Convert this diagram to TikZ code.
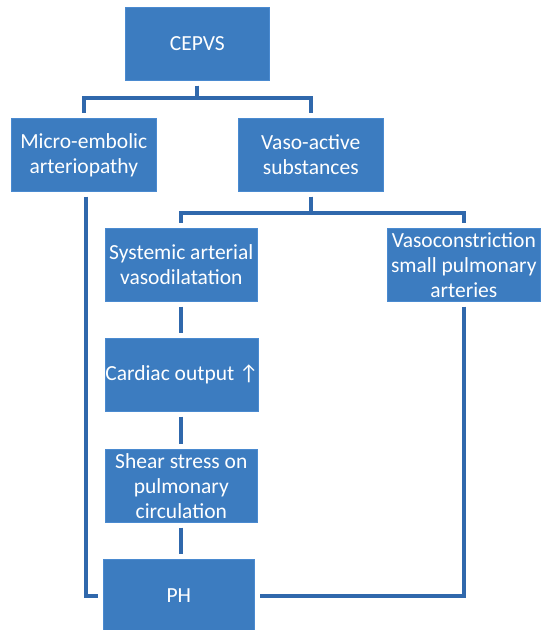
\documentclass[tikz,border=0pt]{standalone}
\usepackage{fontspec}
\setmainfont{Carlito}
\definecolor{boxblue}{HTML}{3C7CC0}
\definecolor{boxedge}{HTML}{4A8AD0}
\definecolor{lineblue}{HTML}{3068AC}
\begin{document}
\begin{tikzpicture}[x=1pt,y=-1pt,
  blk/.style={draw=boxedge,line width=0.6pt,fill=boxblue,text=white,align=center,
    font=\fontsize{21.5}{25}\selectfont,inner sep=0pt,anchor=north west},
  conn/.style={draw=lineblue,line width=4pt,shorten <=5pt,shorten >=5pt}]
\useasboundingbox (0,0) rectangle (542,630);
\node[blk,minimum width=144pt,minimum height=73pt] (cepvs) at (125,7) {CEPVS};
\node[blk,minimum width=145pt,minimum height=73pt] (micro) at (11,118) {Micro-embolic\\arteriopathy};
\node[blk,minimum width=145pt,minimum height=73pt] (vaso) at (238,118) {Vaso-active\\substances};
\node[blk,minimum width=152pt,minimum height=73pt] (sys) at (105,228) {Systemic arterial\\vasodilatation};
\node[blk,minimum width=153pt,minimum height=73pt] (vc) at (387,228) {Vasoconstriction\\small pulmonary\\arteries};
\node[blk,minimum width=152pt,minimum height=73pt] (co) at (105,338) {Cardiac output \char"2191};
\node[blk,minimum width=152pt,minimum height=73pt] (ss) at (105,449) {Shear stress on\\pulmonary\\circulation};
\node[blk,minimum width=151pt,minimum height=73pt] (ph) at (103,559) {PH};
\coordinate (bus) at (181,0);
% connectors
\draw[conn] (cepvs.south) -- ++(0,17) -| (micro.north);
\draw[conn] (cepvs.south) -- ++(0,17) -| (vaso.north);
\draw[conn] (vaso.south) -- ++(0,21) -| (bus |- sys.north);
\draw[conn] (vaso.south) -- ++(0,21) -| (vc.north);
\draw[conn] ([xshift=2.5pt]micro.south) |- (ph.west);
\draw[conn] (vc.south) |- (ph.east);
\draw[conn] (bus |- sys.south) -- (bus |- co.north);
\draw[conn] (bus |- co.south) -- (bus |- ss.north);
\draw[conn] (bus |- ss.south) -- (bus |- ph.north);
\end{tikzpicture}
\end{document}
